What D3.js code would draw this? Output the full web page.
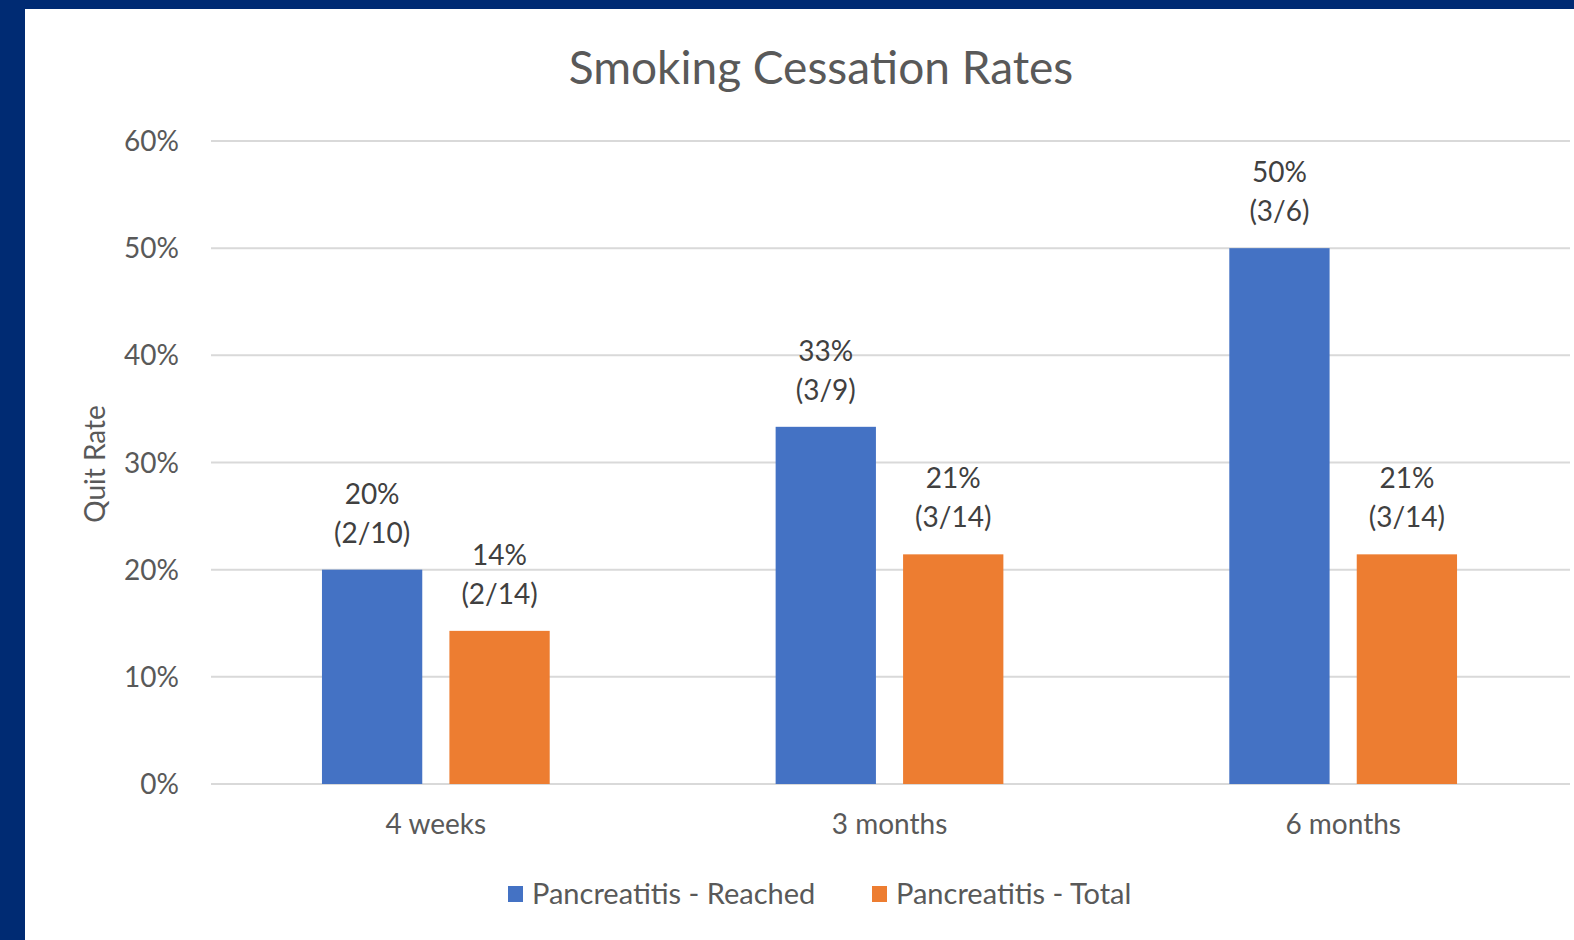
<!DOCTYPE html>
<html>
<head>
<meta charset="utf-8">
<script src="https://cdn.jsdelivr.net/npm/d3@7"></script>
<style>
  body { margin: 0; background: #002b73; }
  svg { display: block; }
</style>
</head>
<body>
<script>
// chart data
var categories = ["4 weeks", "3 months", "6 months"];
var seriesNames = ["Pancreatitis - Reached", "Pancreatitis - Total"];
var reached = [0.20, 0.3333, 0.50];
var total = [0.1429, 0.2143, 0.2143];
var reachedLabels = ["(2/10)", "(3/9)", "(3/6)"];
var totalLabels = ["(2/14)", "(3/14)", "(3/14)"];
var yTicks = [0, 0.1, 0.2, 0.3, 0.4, 0.5, 0.6];
var colors = ["#4472c4", "#ed7d31"];

var W = 1574, H = 940;
var font = "Lato, 'Open Sans', sans-serif";

var svg = d3.select("body").append("svg")
    .attr("width", W)
    .attr("height", H);

// white chart area inside the dark frame
svg.append("rect")
    .attr("x", 25).attr("y", 9)
    .attr("width", W - 25).attr("height", H - 9)
    .attr("fill", "#ffffff");

var x0 = d3.scaleBand()
    .domain(categories)
    .range([209, 1570])
    .paddingInner(0.498)
    .paddingOuter(0.249);

var x1 = d3.scaleBand()
    .domain(seriesNames)
    .range([0, x0.bandwidth()])
    .paddingInner(0.213);

var y = d3.scaleLinear()
    .domain([0, 0.6])
    .range([784, 141]);

// gridlines
svg.append("g")
    .selectAll("line")
    .data(yTicks)
    .enter().append("line")
    .attr("x1", 211).attr("x2", 1570)
    .attr("y1", function(d) { return y(d); })
    .attr("y2", function(d) { return y(d); })
    .attr("stroke", "#d9d9d9")
    .attr("stroke-width", 2);

// y tick labels
svg.append("g")
    .selectAll("text")
    .data(yTicks)
    .enter().append("text")
    .text(function(d) { return d3.format(".0%")(d); })
    .attr("x", 179)
    .attr("y", function(d) { return y(d) + 10; })
    .attr("text-anchor", "end")
    .attr("font-family", font)
    .attr("font-size", 28)
    .attr("fill", "#595959");

// x labels
svg.append("g")
    .selectAll("text")
    .data(categories)
    .enter().append("text")
    .text(function(d) { return d; })
    .attr("x", function(d) { return x0(d) + x0.bandwidth() / 2; })
    .attr("y", 834)
    .attr("text-anchor", "middle")
    .attr("font-family", font)
    .attr("font-size", 28)
    .attr("fill", "#595959");

// build rows for bars
var rows = [];
categories.forEach(function(c, i) {
  rows.push({cat: c, s: seriesNames[0], v: reached[i], frac: reachedLabels[i], color: colors[0]});
  rows.push({cat: c, s: seriesNames[1], v: total[i], frac: totalLabels[i], color: colors[1]});
});

svg.append("g")
    .selectAll("rect")
    .data(rows)
    .enter().append("rect")
    .attr("x", function(d) { return x0(d.cat) + x1(d.s); })
    .attr("y", function(d) { return y(d.v); })
    .attr("width", x1.bandwidth())
    .attr("height", function(d) { return y(0) - y(d.v); })
    .attr("fill", function(d) { return d.color; });

// data labels
var lab = svg.append("g")
    .selectAll("text")
    .data(rows)
    .enter().append("text")
    .attr("text-anchor", "middle")
    .attr("font-family", font)
    .attr("font-size", 28)
    .attr("fill", "#404040");

lab.append("tspan")
    .attr("x", function(d) { return x0(d.cat) + x1(d.s) + x1.bandwidth() / 2; })
    .attr("y", function(d) { return y(d.v) - 66; })
    .text(function(d) { return d3.format(".0%")(d.v); });

lab.append("tspan")
    .attr("x", function(d) { return x0(d.cat) + x1(d.s) + x1.bandwidth() / 2; })
    .attr("y", function(d) { return y(d.v) - 27; })
    .text(function(d) { return d.frac; });

// title
svg.append("text")
    .text("Smoking Cessation Rates")
    .attr("x", 821)
    .attr("y", 84)
    .attr("text-anchor", "middle")
    .attr("font-family", font)
    .attr("font-size", 46)
    .attr("fill", "#595959");

// y axis title
svg.append("text")
    .text("Quit Rate")
    .attr("transform", "translate(105,464) rotate(-90)")
    .attr("text-anchor", "middle")
    .attr("font-family", font)
    .attr("font-size", 28)
    .attr("fill", "#595959");

// legend
var legendX = [508, 872];
var legend = svg.append("g")
    .selectAll("g")
    .data(seriesNames)
    .enter().append("g")
    .attr("transform", function(d, i) { return "translate(" + legendX[i] + ",886)"; });

legend.append("rect")
    .attr("width", 15).attr("height", 16)
    .attr("fill", function(d, i) { return colors[i]; });

legend.append("text")
    .text(function(d) { return d; })
    .attr("x", 24)
    .attr("y", 18)
    .attr("font-family", font)
    .attr("font-size", 29)
    .attr("fill", "#595959");
</script>
</body>
</html>
